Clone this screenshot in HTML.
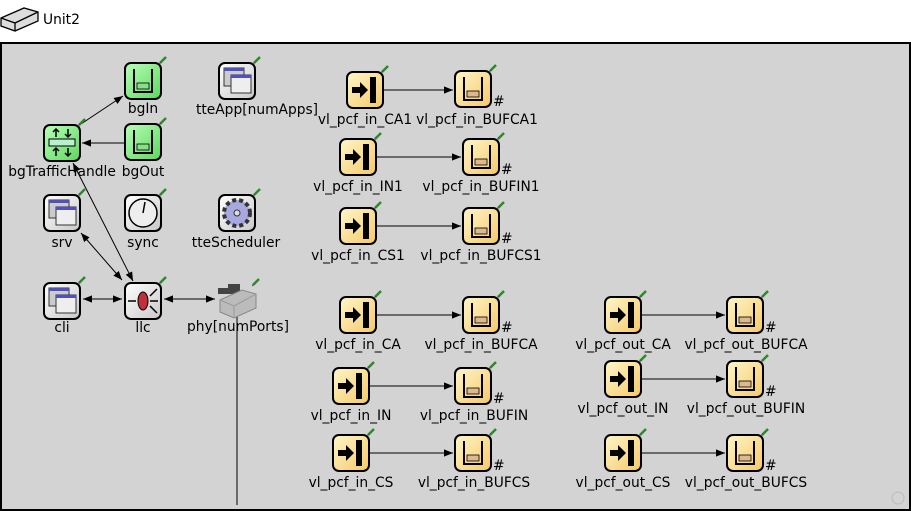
<!DOCTYPE html>
<html><head><meta charset="utf-8"><style>
html,body{margin:0;padding:0;background:#fff}
svg{display:block}
text{font-family:"DejaVu Sans","Liberation Sans",sans-serif;font-size:13.8px;fill:#000}
</style></head><body>
<svg width="911" height="511" viewBox="0 0 911 511" xmlns="http://www.w3.org/2000/svg">
<defs>
<linearGradient id="gy" x1="0" y1="0" x2="1" y2="1"><stop offset="0" stop-color="#fff6c8"/><stop offset="1" stop-color="#f5c86a"/></linearGradient>
<linearGradient id="gg" x1="0" y1="0" x2="1" y2="1"><stop offset="0" stop-color="#b8ffb8"/><stop offset="1" stop-color="#5ed65e"/></linearGradient>
<linearGradient id="gw" x1="0" y1="0" x2="1" y2="1"><stop offset="0" stop-color="#ffffff"/><stop offset="1" stop-color="#c8c8c8"/></linearGradient>
<marker id="ar" viewBox="0 0 10 10" refX="10" refY="5" markerWidth="9" markerHeight="9" markerUnits="userSpaceOnUse" orient="auto-start-reverse"><path d="M0,1 L10,5 L0,9 z" fill="#000"/></marker>
<g id="pin"><line x1="0" y1="6" x2="6" y2="0" stroke="#2a8a2a" stroke-width="2.5"/><line x1="-1" y1="7" x2="1" y2="5" stroke="#555" stroke-width="1"/></g>
<g id="src"><rect x="1" y="1" width="36" height="36" rx="6" fill="url(#gy)" stroke="#000" stroke-width="2"/><rect x="24" y="6" width="6" height="26" fill="#000"/><path d="M6,16 H14 V11 L22,19 L14,27 V22 H6 z" fill="#000"/></g>
<g id="qy"><rect x="1" y="1" width="36" height="36" rx="6" fill="url(#gy)" stroke="#000" stroke-width="2"/><path d="M10,7 V30 H28 V7" fill="none" stroke="#000" stroke-width="2"/><rect x="13" y="21" width="12" height="6" fill="#ddb890" stroke="#000" stroke-width="0.8"/></g>
<g id="qg"><rect x="1" y="1" width="36" height="36" rx="6" fill="url(#gg)" stroke="#000" stroke-width="2"/><path d="M10,7 V30 H28 V7" fill="none" stroke="#000" stroke-width="2"/><rect x="13" y="21" width="12" height="6" fill="#88e088" stroke="#000" stroke-width="0.8"/></g>
<g id="app"><rect x="1" y="1" width="36" height="36" rx="6" fill="url(#gw)" stroke="#000" stroke-width="2"/><rect x="6" y="6" width="20" height="18" fill="#ccc" stroke="#333"/><rect x="6" y="6" width="20" height="3" fill="#5050c0"/><rect x="13" y="13" width="20" height="18" fill="#eee" stroke="#333"/><rect x="13" y="13" width="20" height="3" fill="#5050c0"/></g>
</defs>
<rect width="911" height="511" fill="#fff"/>
<rect x="1" y="43" width="909" height="467" fill="#d3d3d3" stroke="#000" stroke-width="2"/>
<!-- Unit2 icon -->
<path d="M1,18 L24,8 L38,12 L38,21 L15,31 L1,26 z" fill="#ddd" stroke="#000" stroke-width="1.3"/>
<path d="M1,18 L15,23 L38,12 M15,23 V31" fill="none" stroke="#000" stroke-width="1.3"/>
<text x="43" y="24">Unit2</text>

<!-- connections -->
<g stroke="#000" stroke-width="1" fill="none">
<line x1="81" y1="124" x2="123" y2="96" marker-end="url(#ar)"/>
<line x1="124" y1="143" x2="82" y2="143" marker-end="url(#ar)"/>
<line x1="73" y1="163" x2="133" y2="281" marker-start="url(#ar)" marker-end="url(#ar)"/>
<line x1="81" y1="233" x2="122" y2="280" marker-start="url(#ar)" marker-end="url(#ar)"/>
<line x1="83" y1="299" x2="122" y2="299" marker-start="url(#ar)" marker-end="url(#ar)"/>
<line x1="164" y1="299" x2="215" y2="299" marker-start="url(#ar)" marker-end="url(#ar)"/>
<line x1="237" y1="305" x2="237" y2="505"/>
<line x1="384" y1="90" x2="453" y2="90" marker-end="url(#ar)"/>
<line x1="377" y1="157" x2="461" y2="157" marker-end="url(#ar)"/>
<line x1="377" y1="226" x2="461" y2="226" marker-end="url(#ar)"/>
<line x1="377" y1="315" x2="461" y2="315" marker-end="url(#ar)"/>
<line x1="370" y1="386" x2="453" y2="386" marker-end="url(#ar)"/>
<line x1="370" y1="453" x2="453" y2="453" marker-end="url(#ar)"/>
<line x1="642" y1="315" x2="725" y2="315" marker-end="url(#ar)"/>
<line x1="642" y1="379" x2="725" y2="379" marker-end="url(#ar)"/>
<line x1="642" y1="453" x2="725" y2="453" marker-end="url(#ar)"/>
</g>

<!-- left icons -->
<use href="#qg" x="124" y="62"/><use href="#pin" x="160" y="57"/>
<use href="#app" x="218" y="62"/><use href="#pin" x="254" y="57"/>
<use href="#qg" x="124" y="123"/><use href="#pin" x="160" y="118"/>
<g transform="translate(43,124)"><rect x="1" y="1" width="36" height="36" rx="6" fill="url(#gg)" stroke="#000" stroke-width="2"/><rect x="6" y="15" width="26" height="7" fill="#b8f0d0" stroke="#000"/><path d="M13,5 V13 M10,8 L13,5 L16,8 M25,5 V13 M22,10 L25,13 L28,10 M13,24 V32 M10,27 L13,24 L16,27 M25,24 V32 M22,29 L25,32 L28,29" stroke="#000" stroke-width="1.5" fill="none"/></g><use href="#pin" x="79" y="119"/>
<use href="#app" x="43" y="194"/><use href="#pin" x="79" y="189"/>
<g transform="translate(124,194)"><rect x="1" y="1" width="36" height="36" rx="6" fill="url(#gw)" stroke="#000" stroke-width="2"/><circle cx="19" cy="19" r="14" fill="#eee" stroke="#000" stroke-width="1.5"/><line x1="19" y1="19" x2="21" y2="8" stroke="#000" stroke-width="1.5"/></g><use href="#pin" x="160" y="189"/>
<g transform="translate(218,194)"><rect x="1" y="1" width="36" height="36" rx="6" fill="url(#gw)" stroke="#000" stroke-width="2"/><circle cx="19" cy="19" r="13" fill="#a8a8e0" stroke="#333" stroke-width="4" stroke-dasharray="4 3"/><circle cx="19" cy="19" r="10" fill="#a8a8e0"/><circle cx="19" cy="19" r="3" fill="#ddd" stroke="#333"/></g><use href="#pin" x="254" y="189"/>
<use href="#app" x="43" y="282"/><use href="#pin" x="79" y="277"/>
<g transform="translate(124,282)"><rect x="1" y="1" width="36" height="36" rx="6" fill="url(#gw)" stroke="#000" stroke-width="2"/><ellipse cx="19" cy="19" rx="5" ry="9" fill="#c0303a" stroke="#000"/><path d="M4,19 H12 M26,19 H34 M26,14 L33,7 M26,24 L33,31" stroke="#000" stroke-width="1.5"/></g><use href="#pin" x="160" y="277"/>
<g transform="translate(216,282)"><path d="M2,6 H12 V2 H24 V12 H2 z" fill="#444"/><path d="M4,18 L26,8 L40,12 L40,26 L18,36 L4,30 z" fill="#bbb" stroke="#888"/><path d="M4,18 L18,24 L40,12 M18,24 V36" stroke="#999" fill="none"/></g><use href="#pin" x="253" y="279"/>

<g text-anchor="middle">
<text x="143" y="113">bgIn</text>
<text x="257" y="114">tteApp[numApps]</text>
<text x="62" y="176">bgTrafficHandle</text>
<text x="143" y="176">bgOut</text>
<text x="62" y="247">srv</text>
<text x="143" y="247">sync</text>
<text x="236" y="247">tteScheduler</text>
<text x="62" y="332">cli</text>
<text x="143" y="332">llc</text>
<text x="238" y="331">phy[numPorts]</text>
</g>

<!-- right icons -->
<use href="#src" x="346" y="71"/><use href="#pin" x="382" y="66"/>
<use href="#qy" x="454" y="70"/><use href="#pin" x="490" y="65"/><text x="493" y="106">#</text>
<use href="#src" x="339" y="138"/><use href="#pin" x="375" y="133"/>
<use href="#qy" x="462" y="138"/><use href="#pin" x="498" y="133"/><text x="501" y="174">#</text>
<use href="#src" x="339" y="207"/><use href="#pin" x="375" y="202"/>
<use href="#qy" x="462" y="207"/><use href="#pin" x="498" y="202"/><text x="501" y="243">#</text>
<use href="#src" x="339" y="296"/><use href="#pin" x="375" y="291"/>
<use href="#qy" x="462" y="296"/><use href="#pin" x="498" y="291"/><text x="501" y="332">#</text>
<use href="#src" x="332" y="367"/><use href="#pin" x="368" y="362"/>
<use href="#qy" x="454" y="367"/><use href="#pin" x="490" y="362"/><text x="493" y="403">#</text>
<use href="#src" x="332" y="434"/><use href="#pin" x="368" y="429"/>
<use href="#qy" x="454" y="434"/><use href="#pin" x="490" y="429"/><text x="493" y="470">#</text>
<use href="#src" x="604" y="296"/><use href="#pin" x="640" y="291"/>
<use href="#qy" x="726" y="296"/><use href="#pin" x="762" y="291"/><text x="765" y="332">#</text>
<use href="#src" x="604" y="360"/><use href="#pin" x="640" y="355"/>
<use href="#qy" x="726" y="360"/><use href="#pin" x="762" y="355"/><text x="765" y="396">#</text>
<use href="#src" x="604" y="434"/><use href="#pin" x="640" y="429"/>
<use href="#qy" x="726" y="434"/><use href="#pin" x="762" y="429"/><text x="765" y="470">#</text>

<g text-anchor="middle">
<text x="365" y="124">vl_pcf_in_CA1</text>
<text x="477" y="124">vl_pcf_in_BUFCA1</text>
<text x="358" y="191">vl_pcf_in_IN1</text>
<text x="481" y="191">vl_pcf_in_BUFIN1</text>
<text x="358" y="260">vl_pcf_in_CS1</text>
<text x="481" y="260">vl_pcf_in_BUFCS1</text>
<text x="358" y="349">vl_pcf_in_CA</text>
<text x="481" y="349">vl_pcf_in_BUFCA</text>
<text x="351" y="420">vl_pcf_in_IN</text>
<text x="474" y="420">vl_pcf_in_BUFIN</text>
<text x="351" y="487">vl_pcf_in_CS</text>
<text x="474" y="487">vl_pcf_in_BUFCS</text>
<text x="623" y="349">vl_pcf_out_CA</text>
<text x="746" y="349">vl_pcf_out_BUFCA</text>
<text x="623" y="413">vl_pcf_out_IN</text>
<text x="746" y="413">vl_pcf_out_BUFIN</text>
<text x="623" y="487">vl_pcf_out_CS</text>
<text x="746" y="487">vl_pcf_out_BUFCS</text>
</g>
<circle cx="898" cy="498" r="6" fill="none" stroke="#bbb"/>
</svg>
</body></html>
